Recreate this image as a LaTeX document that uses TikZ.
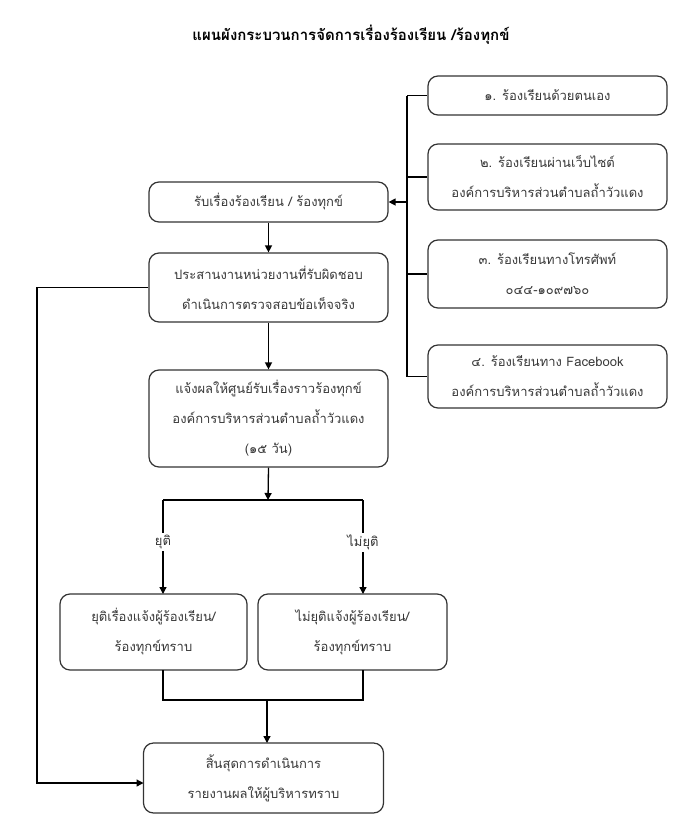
\documentclass[tikz,border=0pt]{standalone}
\usepackage{fontspec}
\newfontfamily\thai[Script=Thai]{Loma}
\usetikzlibrary{arrows.meta}
\definecolor{txt}{HTML}{383838}
\definecolor{bord}{HTML}{333333}
\begin{document}
\begin{tikzpicture}[x=1pt,y=-1pt,
  box/.style={draw=bord, line width=1.2pt, rounded corners=10pt, align=center, text=txt,
    inner sep=0pt, font=\thai\fontsize{13}{30}\selectfont},
  conn/.style={draw=black, line width=1.3pt},
  arr/.style={conn, -{Triangle[length=7pt,width=7pt]}},
  lbl/.style={text=txt, font=\thai\fontsize{13}{15}\selectfont, fill=white, inner sep=2pt}]
\useasboundingbox (0,0) rectangle (700,833);
\node[font=\thai\bfseries\fontsize{15}{18}\selectfont] (title) at (351,35) {แผนผังกระบวนการจัดการเรื่องร้องเรียน /ร้องทุกข์};
% right channel boxes
\node[box, minimum width=239pt, minimum height=39pt] (c1) at (547.5,95.5) {๑. ร้องเรียนด้วยตนเอง};
\node[box, minimum width=239pt, minimum height=66pt] (c2) at (547.5,177) {๒. ร้องเรียนผ่านเว็บไซต์\\องค์การบริหารส่วนตำบลถ้ำวัวแดง};
\node[box, minimum width=239pt, minimum height=68pt] (c3) at (547.5,274) {๓. ร้องเรียนทางโทรศัพท์\\๐๔๔-๑๐๙๗๖๐};
\node[box, minimum width=239pt, minimum height=63pt] (c4) at (547.5,376.5) {๔. ร้องเรียนทาง Facebook\\องค์การบริหารส่วนตำบลถ้ำวัวแดง};
% main flow
\node[box, minimum width=239pt, minimum height=40pt] (recv) at (268.5,202) {รับเรื่องร้องเรียน / ร้องทุกข์};
\node[box, minimum width=239pt, minimum height=69pt] (coord) at (268.5,287.5) {ประสานงานหน่วยงานที่รับผิดชอบ\\ดำเนินการตรวจสอบข้อเท็จจริง};
\node[box, minimum width=239pt, minimum height=97pt] (notify) at (268.5,418.5) {แจ้งผลให้ศูนย์รับเรื่องราวร้องทุกข์\\องค์การบริหารส่วนตำบลถ้ำวัวแดง\\(๑๕ วัน)};
\node[box, minimum width=187pt, minimum height=76pt] (yes) at (153.5,632) {ยุติเรื่องแจ้งผู้ร้องเรียน/\\ร้องทุกข์ทราบ};
\node[box, minimum width=189pt, minimum height=76pt] (no) at (352.5,632) {ไม่ยุติแจ้งผู้ร้องเรียน/\\ร้องทุกข์ทราบ};
\node[box, minimum width=240pt, minimum height=70pt] (end) at (263.5,778) {สิ้นสุดการดำเนินการ\\รายงานผลให้ผู้บริหารทราบ};
% coordinates
\coordinate (bt) at (407,95.5);
\coordinate (bb) at (407,376.5);
\coordinate (br) at (407,202);
\coordinate (sp) at (268,500);
\coordinate (spl) at (163,500);
\coordinate (spr) at (363,500);
\coordinate (mg) at (267,700);
\coordinate (fb1) at (37,287.5);
\coordinate (fb2) at (37,783);
% bus
\draw[conn] (bt) -- (bb);
\draw[conn] (bt) -- (c1.west);
\draw[conn] (407,177) -- (c2.west);
\draw[conn] (407,274) -- (c3.west);
\draw[conn] (bb) -- (c4.west);
\draw[arr] (br) -- (recv.east);
% main arrows
\draw[arr] (recv.south) -- (coord.north);
\draw[arr] (coord.south) -- (notify.north);
\draw[arr] (notify.south) -- (sp);
\draw[conn] (spl) -- (spr);
\draw[arr] (spl) -- (163,594) node[lbl, pos=0.45] (ly) {ยุติ};
\draw[arr] (spr) -- (363,594) node[lbl, pos=0.45] (ln) {ไม่ยุติ};
\draw[conn] (163,670) |- (mg) -| (363,670);
\draw[arr] (mg) -- (267,743);
% feedback
\draw[arr] (coord.west) -- (fb1) -- (fb2) -- (143.5,783);
\end{tikzpicture}
\end{document}
